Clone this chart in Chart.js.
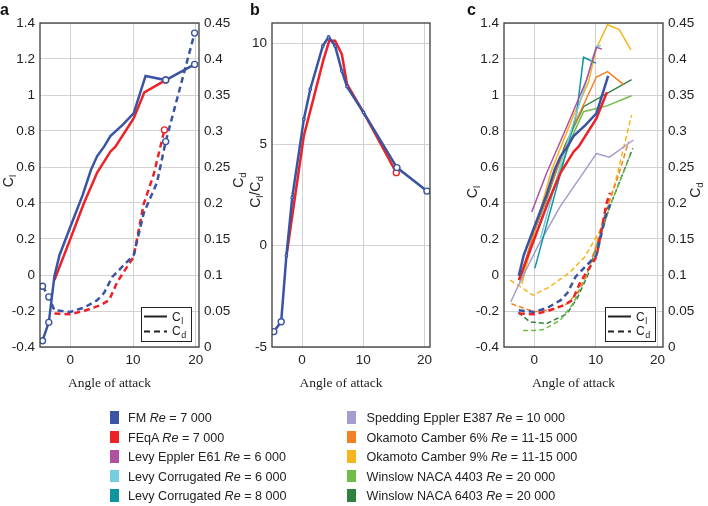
<!DOCTYPE html>
<html>
<head>
<meta charset="utf-8">
<script src="https://cdn.jsdelivr.net/npm/chart.js@4.4.1/dist/chart.umd.min.js"></script>
<style>
  html, body { margin: 0; padding: 0; background: #fff; }
  #wrap { position: relative; width: 708px; height: 506px; overflow: hidden; }
  canvas { position: absolute; left: 0; top: 0; }
  #legend { position: absolute; left: 0; top: 0; width: 708px; height: 506px;
            font: 12.6px "Liberation Sans", Arial, sans-serif; color: #222; }
  .sw { position: absolute; width: 9px; height: 12.5px; }
  .lab { position: absolute; white-space: nowrap; line-height: 15px; }
</style>
</head>
<body>
<div id="wrap">
  <canvas id="ca" width="708" height="506"></canvas>
  <canvas id="cb" width="708" height="506"></canvas>
  <canvas id="cc" width="708" height="506"></canvas>
  <div id="legend"></div>
</div>
<script>
// tick values
const xTicks = [0, 10, 20];
const clTicks = [-0.4, -0.2, 0, 0.2, 0.4, 0.6, 0.8, 1, 1.2, 1.4];
const cdTicks = [0, 0.05, 0.1, 0.15, 0.2, 0.25, 0.3, 0.35, 0.4, 0.45];
const ldTicks = [-5, 0, 5, 10];

// legend entries
const seriesNames = ["FM", "FEqA", "Levy Eppler E61", "Levy Corrugated", "Levy Corrugated",
  "Spedding Eppler E387", "Okamoto Camber 6%", "Okamoto Camber 9%", "Winslow NACA 4403", "Winslow NACA 6403"];
const seriesRe = ["7 000", "7 000", "6 000", "6 000", "8 000", "10 000", "11-15 000", "11-15 000", "20 000", "20 000"];
const seriesColors = ["#3a54a4", "#ec2227", "#b0519f", "#74cde0", "#0f95a1",
  "#a79ccf", "#f58022", "#f8b51b", "#6dbd48", "#2f8140"];

// FM, Re = 7000
const fmClAlpha = [-4.4, -3.4, -2.5, -1.7, 0, 2.0, 3.3, 4.3, 5.4, 6.4, 8.3, 10.1, 12.0, 15.2, 19.8];
const fmCl = [-0.365, -0.263, -0.005, 0.11, 0.265, 0.445, 0.583, 0.661, 0.713, 0.772, 0.833, 0.898, 1.106, 1.083, 1.17];
const fmCdAlpha = [-4.4, -3.4, -2.5, 0, 2.2, 4.3, 5.4, 6.7, 10.1, 11.7, 12.3, 13.8, 15.2, 19.8];
const fmCd = [0.0844, 0.0696, 0.051, 0.0487, 0.0547, 0.065, 0.0752, 0.0974, 0.1276, 0.1856, 0.198, 0.228, 0.2853, 0.436];
const fmLdAlpha = [-4.6, -3.4, -2.55, -1.6, 0.3, 1.35, 3.4, 4.35, 5.4, 6.5, 7.35, 10.05, 15.5, 20.4];
const fmLd = [-4.24, -3.75, -0.49, 2.38, 6.25, 7.73, 9.87, 10.31, 9.87, 8.63, 7.86, 6.58, 3.86, 2.7];

// FEqA, Re = 7000
const feClAlpha = [-2.5, 0, 2.2, 4.3, 6.4, 7.2, 10.1, 11.8, 15.2];
const feCl = [-0.028, 0.198, 0.4, 0.569, 0.685, 0.713, 0.87, 1.015, 1.083];
const feCdAlpha = [-2.5, 0, 2.2, 4.8, 6.2, 7.5, 10.1, 11.7, 12.3, 13.3, 15.0];
const feCd = [0.0464, 0.0455, 0.05, 0.058, 0.065, 0.0905, 0.1253, 0.1986, 0.214, 0.24, 0.3015];
const feLdAlpha = [-2.55, 0.3, 1.85, 3.45, 4.45, 5.4, 6.5, 7.35, 10.05, 15.4];
const feLd = [-0.53, 5.43, 7.24, 9.13, 10.12, 10.12, 9.46, 7.98, 6.58, 3.61];

// reference data (panel c)
const e61Alpha = [-0.4, 2.0, 5.3, 8.5, 10.1, 11.0];
const e61Cl = [0.35, 0.565, 0.825, 1.085, 1.265, 1.255];
const corr6Alpha = [1.0, 4.0, 6.5, 8.5, 9.6, 10.1, 10.8];
const corr6Cl = [0.2, 0.58, 0.86, 1.08, 1.22, 1.27, 1.275];
const corr8Alpha = [0.1, 5.3, 6.9, 8.0, 10.0];
const corr8Cl = [0.037, 0.695, 0.9, 1.21, 1.177];
const e387Alpha = [-3.8, -2.6, 0.6, 4.2, 7.4, 10.1, 12.2, 16.1];
const e387Cl = [-0.15, -0.06, 0.16, 0.38, 0.54, 0.675, 0.655, 0.75];
const oka6ClAlpha = [-2.3, 0, 3.6, 6.3, 8.2, 10.1, 11.9, 14.6];
const oka6Cl = [-0.02, 0.24, 0.58, 0.82, 0.96, 1.1, 1.13, 1.056];
const oka6CdAlpha = [-3.7, 0, 3, 5.3, 7, 8.5, 10, 11.5, 13.7, 15.3];
const oka6Cd = [0.06, 0.049, 0.052, 0.06, 0.075, 0.1, 0.14, 0.185, 0.239, 0.285];
const oka9ClAlpha = [-2.0, 0.5, 2.8, 6.3, 8.8, 10.1, 11.9, 13.8, 15.7];
const oka9Cl = [-0.05, 0.3, 0.58, 0.88, 1.07, 1.26, 1.39, 1.363, 1.251];
const oka9CdAlpha = [-3.9, -0.2, 2.5, 5.8, 8.2, 10.7, 13.1, 15.8];
const oka9Cd = [0.093, 0.072, 0.0835, 0.104, 0.125, 0.162, 0.227, 0.322];
const n4403ClAlpha = [-2.3, 0, 3.0, 6.3, 8.0, 11.9, 15.8];
const n4403Cl = [-0.04, 0.2, 0.47, 0.78, 0.907, 0.941, 0.996];
const n4403CdAlpha = [-1.8, 0, 1.5, 4.2, 6.3, 8.3, 10.1, 12.5, 15.6];
const n4403Cd = [0.023, 0.023, 0.0242, 0.037, 0.06, 0.095, 0.14, 0.2, 0.267];
const n6403ClAlpha = [-2.3, 0, 2.0, 5.0, 8.0, 15.8];
const n6403Cl = [-0.03, 0.24, 0.42, 0.72, 0.935, 1.085];
const n6403CdAlpha = [-2.6, -0.7, 2.0, 5.3, 7.0, 8.7, 10.3, 12.5, 16.0];
const n6403Cd = [0.048, 0.035, 0.0325, 0.046, 0.068, 0.1, 0.145, 0.2, 0.276];

const SANS = '"Liberation Sans", Arial, Helvetica, sans-serif';
const SERIF = '"Liberation Serif", "Times New Roman", serif';
const INK = "#222";
const GRID = "#d2d2d2";
const FRAME = "#3c3c3c";
const [BLUE, RED] = seriesColors;

const pts = (xs, ys) => xs.map((x, i) => ({ x, y: ys[i] }));
const fmt = v => String(+Number(v).toFixed(2));

// open circles on some points only
function rings(n, idx, r = 3, rest = 0) {
  return Array.from({ length: n }, (_, i) => (idx.includes(i) ? r : rest));
}

function line(data, color, width, dashed, axis, radius) {
  return {
    data,
    showLine: true,
    yAxisID: axis || "y",
    borderColor: color,
    borderWidth: width,
    borderDash: dashed ? (width > 2 ? [6, 4] : [5, 3]) : [],
    pointRadius: radius || 0,
    pointBorderColor: color,
    pointBackgroundColor: "#fff",
    pointBorderWidth: 1.4,
    tension: 0,
  };
}

function xScale(min, max) {
  return {
    type: "linear", min, max,
    afterBuildTicks: s => { s.ticks = xTicks.map(v => ({ value: v })); },
    afterFit: s => { s.height = 28; },
    grid: { color: GRID, drawTicks: false },
    border: { display: false },
    ticks: { font: { family: SANS, size: 13.5 }, color: INK, padding: 5, maxRotation: 0 },
  };
}

function yScale(pos, min, max, ticks, width, grid) {
  return {
    type: "linear", position: pos, min, max,
    afterBuildTicks: s => { s.ticks = ticks.map(v => ({ value: v })); },
    afterFit: s => { s.width = width; },
    grid: { display: grid, color: GRID, drawTicks: false },
    border: { display: false },
    ticks: { font: { family: SANS, size: 13.5 }, color: INK, padding: 5, callback: v => fmt(v) },
  };
}

// rotated title with subscripts, parts = [[text, isSub], ...]
function drawRot(ctx, parts, x, cy, size) {
  ctx.save();
  ctx.translate(x, cy);
  ctx.rotate(-Math.PI / 2);
  ctx.textBaseline = "alphabetic";
  ctx.textAlign = "left";
  const fonts = parts.map(p => (p[1] ? size * 0.7 : size) + "px " + SANS);
  let total = 0;
  parts.forEach((p, i) => { ctx.font = fonts[i]; total += ctx.measureText(p[0]).width; });
  let cx = -total / 2;
  parts.forEach((p, i) => {
    ctx.font = fonts[i];
    ctx.fillText(p[0], cx, p[1] ? 3 : 0);
    cx += ctx.measureText(p[0]).width;
  });
  ctx.restore();
}

function drawSub(ctx, main, sub, x, y, size) {
  ctx.font = size + "px " + SANS;
  ctx.fillText(main, x, y);
  const w = ctx.measureText(main).width;
  ctx.font = size * 0.75 + "px " + SANS;
  ctx.fillText(sub, x + w + 0.5, y + 3);
}

function drawInset(ctx, a) {
  const w = 50, h = 34;
  const x = a.right - 8 - w, y = a.bottom - 6 - h;
  ctx.fillStyle = "#fff";
  ctx.fillRect(x, y, w, h);
  ctx.strokeStyle = "#222";
  ctx.lineWidth = 1;
  ctx.strokeRect(x + 0.5, y + 0.5, w, h);
  ctx.lineWidth = 2;
  ctx.beginPath(); ctx.moveTo(x + 3, y + 9.5); ctx.lineTo(x + 26, y + 9.5); ctx.stroke();
  ctx.setLineDash([6, 4]);
  ctx.beginPath(); ctx.moveTo(x + 3, y + 24.5); ctx.lineTo(x + 26, y + 24.5); ctx.stroke();
  ctx.setLineDash([]);
  ctx.fillStyle = INK;
  ctx.textAlign = "left";
  ctx.textBaseline = "alphabetic";
  drawSub(ctx, "C", "l", x + 31, y + 14, 12);
  drawSub(ctx, "C", "d", x + 31, y + 28, 12);
}

function decor(cfg) {
  return {
    id: "decor",
    afterDatasetsDraw(chart) {
      const { ctx, chartArea: a } = chart;
      ctx.save();
      ctx.strokeStyle = FRAME;
      ctx.lineWidth = 1.3;
      ctx.strokeRect(a.left, a.top, a.right - a.left, a.bottom - a.top);
      ctx.fillStyle = "#111";
      ctx.textAlign = "left";
      ctx.textBaseline = "alphabetic";
      ctx.font = "bold 16px " + SANS;
      ctx.fillText(cfg.letter, cfg.letterX, 15);
      ctx.fillStyle = INK;
      ctx.font = "13.5px " + SERIF;
      ctx.textAlign = "center";
      ctx.fillText("Angle of attack", (a.left + a.right) / 2 - 10, 387);
      drawRot(ctx, cfg.yTitle, cfg.yTitleX, cfg.yTitleY, 14);
      if (cfg.y2Title) drawRot(ctx, cfg.y2Title, cfg.y2TitleX, cfg.y2TitleY, 14);
      if (cfg.inset) drawInset(ctx, a);
      ctx.restore();
    },
  };
}

function makeChart(id, datasets, scales, padding, cfg) {
  return new Chart(document.getElementById(id), {
    type: "scatter",
    data: { datasets },
    options: {
      responsive: false,
      devicePixelRatio: 1,
      animation: false,
      events: [],
      layout: { padding },
      plugins: { legend: { display: false }, tooltip: { enabled: false } },
      scales,
    },
    plugins: [decor(cfg)],
  });
}

// panel a
makeChart("ca", [
  line(pts(fmClAlpha, fmCl), BLUE, 2.5, false, "y", rings(fmClAlpha.length, [0, 1, 13, 14])),
  line(pts(feClAlpha, feCl), RED, 2.5, false, "y", rings(feClAlpha.length, [feClAlpha.length - 1])),
  line(pts(fmCdAlpha, fmCd), BLUE, 2.5, true, "y2", rings(fmCdAlpha.length, [0, 1, 12, 13])),
  line(pts(feCdAlpha, feCd), RED, 2.5, true, "y2", rings(feCdAlpha.length, [feCdAlpha.length - 1])),
], {
  x: xScale(-4.8, 20.5),
  y: yScale("left", -0.4, 1.4, clTicks, 40, true),
  y2: yScale("right", 0, 0.45, cdTicks, 36, false),
}, { left: 0, right: 708 - 199 - 36, top: 23, bottom: 506 - 347 - 28 }, {
  letter: "a", letterX: 0,
  yTitle: [["C", false], ["l", true]], yTitleX: 13, yTitleY: 181,
  y2Title: [["C", false], ["d", true]], y2TitleX: 243, y2TitleY: 180,
  inset: true,
});

// panel b
makeChart("cb", [
  line(pts(fmLdAlpha, fmLd), BLUE, 2.5, false, "y", rings(fmLdAlpha.length, [0, 1, 12, 13], 3, 1.2)),
  line(pts(feLdAlpha, feLd), RED, 2.5, false, "y", rings(feLdAlpha.length, [feLdAlpha.length - 1])),
], {
  x: xScale(-4.9, 20.9),
  y: yScale("left", -5, 11, ldTicks, 30, true),
}, { left: 272 - 30, right: 708 - 430, top: 23, bottom: 506 - 347 - 28 }, {
  letter: "b", letterX: 250,
  yTitle: [["C", false], ["l", true], ["/C", false], ["d", true]], yTitleX: 260, yTitleY: 192,
});

// panel c
const upTo = (d, lo, hi) => d.filter(p => p.x >= lo && p.x <= hi);
makeChart("cc", [
  line(upTo(pts(fmClAlpha, fmCl), -2.6, 12.1), BLUE, 2.5, false, "y"),
  line(upTo(pts(feClAlpha, feCl), -2.6, 12.0), RED, 2.5, false, "y"),
  line(upTo(pts(fmCdAlpha, fmCd), -2.6, 12.4), BLUE, 2.5, true, "y2"),
  line(upTo(pts(feCdAlpha, feCd), -2.6, 12.4), RED, 2.5, true, "y2"),
  line(pts(e61Alpha, e61Cl), seriesColors[2], 1.5, false, "y"),
  line(pts(corr6Alpha, corr6Cl), seriesColors[3], 1.5, false, "y"),
  line(pts(corr8Alpha, corr8Cl), seriesColors[4], 1.5, false, "y"),
  line(pts(e387Alpha, e387Cl), seriesColors[5], 1.5, false, "y"),
  line(pts(oka6ClAlpha, oka6Cl), seriesColors[6], 1.5, false, "y"),
  line(pts(oka6CdAlpha, oka6Cd), seriesColors[6], 1.5, true, "y2"),
  line(pts(oka9ClAlpha, oka9Cl), seriesColors[7], 1.5, false, "y"),
  line(pts(oka9CdAlpha, oka9Cd), seriesColors[7], 1.5, true, "y2"),
  line(pts(n4403ClAlpha, n4403Cl), seriesColors[8], 1.5, false, "y"),
  line(pts(n4403CdAlpha, n4403Cd), seriesColors[8], 1.5, true, "y2"),
  line(pts(n6403ClAlpha, n6403Cl), seriesColors[9], 1.5, false, "y"),
  line(pts(n6403CdAlpha, n6403Cd), seriesColors[9], 1.5, true, "y2"),
], {
  x: xScale(-4.9, 20.9),
  y: yScale("left", -0.4, 1.4, clTicks, 40, true),
  y2: yScale("right", 0, 0.45, cdTicks, 36, false),
}, { left: 504 - 40, right: 708 - 663 - 36, top: 23, bottom: 506 - 347 - 28 }, {
  letter: "c", letterX: 467,
  yTitle: [["C", false], ["l", true]], yTitleX: 477, yTitleY: 192,
  y2Title: [["C", false], ["d", true]], y2TitleX: 700, y2TitleY: 190,
  inset: true,
});

// legend below the panels
const legend = document.getElementById("legend");
seriesNames.forEach((name, i) => {
  const col = i < 5 ? 0 : 1;
  const cy = 417.5 + (i % 5) * 19.5;
  const sw = document.createElement("div");
  sw.className = "sw";
  sw.style.left = (col ? 347 : 109.5) + "px";
  sw.style.top = (cy - 6.25) + "px";
  sw.style.background = seriesColors[i];
  legend.appendChild(sw);
  const lab = document.createElement("div");
  lab.className = "lab";
  lab.style.left = (col ? 366.5 : 128) + "px";
  lab.style.top = (cy - 6.5) + "px";
  lab.innerHTML = name + " <i>Re</i> = " + seriesRe[i];
  legend.appendChild(lab);
});
</script>
</body>
</html>
